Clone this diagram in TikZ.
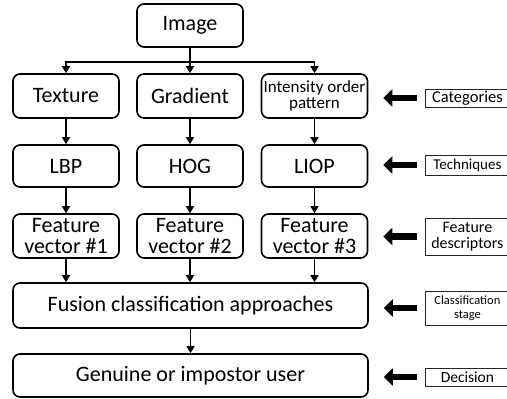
\documentclass[tikz,border=0pt]{standalone}
\usepackage{fontspec}
\setmainfont{Carlito}
\usepackage{tikz}
\usetikzlibrary{arrows.meta, positioning}

\tikzset{
    box/.style={draw, line width=1.6pt, rounded corners=7pt, minimum width=106pt,
        inner sep=0pt, align=center, font=\fontsize{22}{21}\selectfont},
    widebox/.style={box, minimum width=355pt},
    tag/.style={draw=black!85, line width=0.8pt, anchor=west, minimum width=84pt,
        inner sep=0pt, align=center, font=\fontsize{16}{16}\selectfont},
    flow/.style={line width=1.6pt, -{Triangle[length=7pt,width=8pt]}},
    bigarrow/.style={line width=6.5pt, -{Triangle[length=9pt,width=17pt]},
        shorten <=8pt, shorten >=15pt}
}

\begin{document}
\begin{tikzpicture}[x=1pt, y=-1pt]
    \useasboundingbox (0,0) rectangle (507,399);

    % Main column
    \node[box, minimum height=43pt] (img) at (190,25.5) {Image};

    \node[box, minimum height=44pt] (tex) at (66,96) {Texture};
    \node[box, minimum height=44pt] (grad) at (190,96) {Gradient};
    \node[box, minimum height=44pt, font=\fontsize{17}{16}\selectfont] (iop) at (314.5,96) {Intensity order\\pattern};

    \node[box, minimum height=42pt] (lbp) at (66,166) {LBP};
    \node[box, minimum height=42pt] (hog) at (190,166) {HOG};
    \node[box, minimum height=42pt] (liop) at (314.5,166) {LIOP};

    \node[box, minimum height=44pt] (fv1) at (66,236) {Feature\\vector \#1};
    \node[box, minimum height=44pt] (fv2) at (190,236) {Feature\\vector \#2};
    \node[box, minimum height=44pt] (fv3) at (314.5,236) {Feature\\vector \#3};

    \node[widebox, minimum height=45pt] (fus) at (190.5,305.5) {Fusion classification approaches};
    \node[widebox, minimum height=43pt] (dec) at (190.5,375.5) {Genuine or impostor user};

    % Connectors
    \coordinate (split) at (190,62);
    \draw[line width=1.6pt] (img.south) -- (split);
    \draw[flow] (split) -| (tex.north);
    \draw[flow] (split) -- (grad.north);
    \draw[flow] (split) -| (iop.north);

    \draw[flow] (tex) -- (lbp);
    \draw[flow] (grad) -- (hog);
    \draw[flow] (iop) -- (liop);

    \draw[flow] (lbp) -- (fv1);
    \draw[flow] (hog) -- (fv2);
    \draw[flow] (liop) -- (fv3);

    \draw[flow] (fv1.south) -- (fv1.south |- fus.north);
    \draw[flow] (fv2.south) -- (fv2.south |- fus.north);
    \draw[flow] (fv3.south) -- (fv3.south |- fus.north);

    \draw[flow] (fus) -- (dec);

    % Stage labels
    \node[tag, minimum height=18pt, font=\fontsize{16.5}{16}\selectfont] (cat) at (425,98) {Categories};
    \node[tag, minimum height=20pt, font=\fontsize{15}{15}\selectfont] (tech) at (425,165) {Techniques};
    \node[tag, minimum height=37pt] (desc) at (425,236.5) {Feature\\descriptors};
    \node[tag, minimum height=34pt, font=\fontsize{12.5}{13.5}\selectfont] (cls) at (425,308) {Classification\\stage};
    \node[tag, minimum height=18pt, font=\fontsize{15.5}{16}\selectfont] (dcs) at (425,377) {Decision};

    \draw[bigarrow] (cat.west) -- (cat.west -| iop.east);
    \draw[bigarrow] (tech.west) -- (tech.west -| liop.east);
    \draw[bigarrow] (desc.west) -- (desc.west -| fv3.east);
    \draw[bigarrow] (cls.west) -- (cls.west -| fus.east);
    \draw[bigarrow] (dcs.west) -- (dcs.west -| dec.east);
\end{tikzpicture}
\end{document}
